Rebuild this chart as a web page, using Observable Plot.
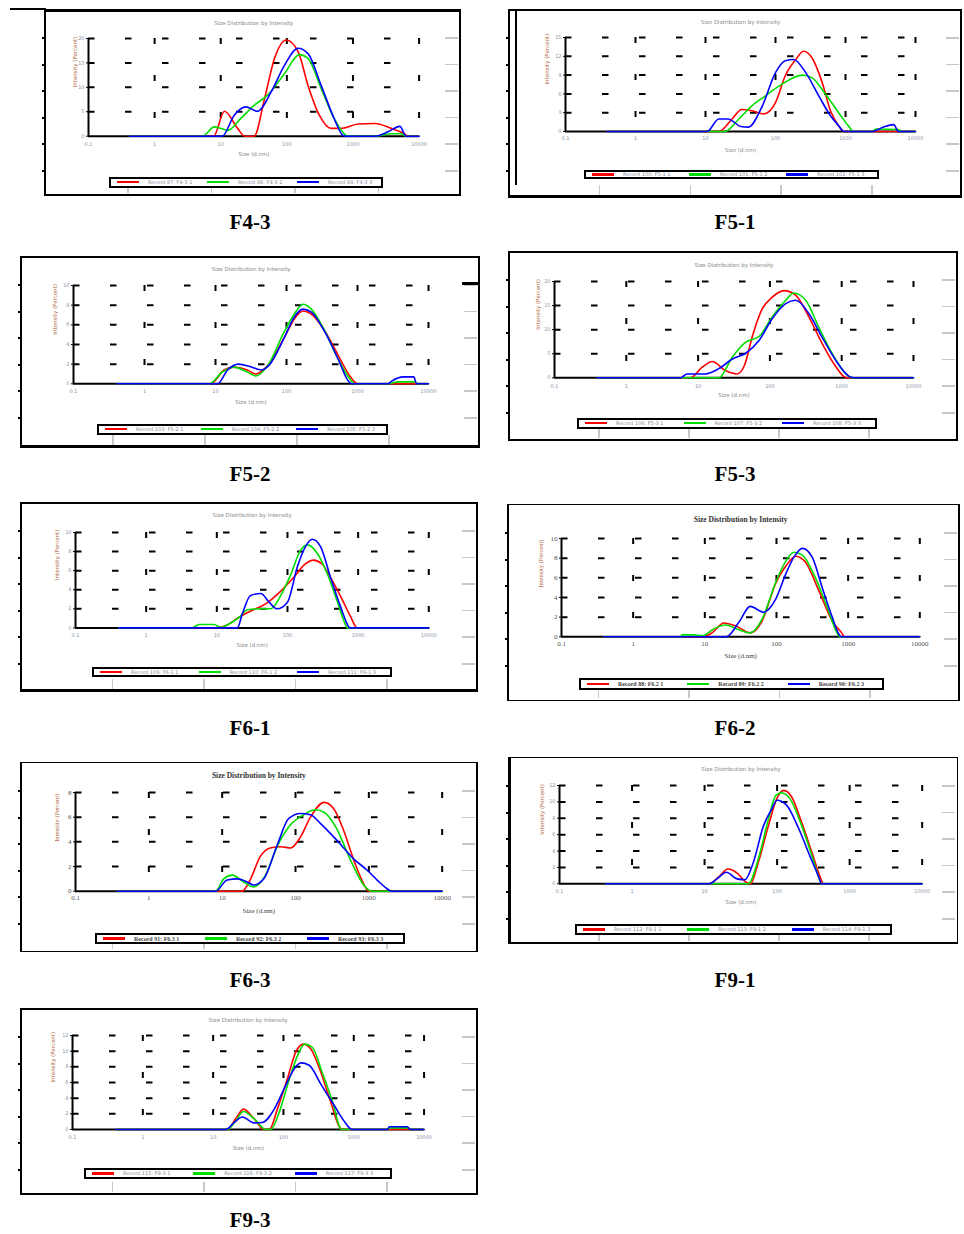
<!DOCTYPE html>
<html><head><meta charset="utf-8">
<script src="https://cdn.jsdelivr.net/npm/d3@7"></script>
<script src="https://cdn.jsdelivr.net/npm/@observablehq/plot@0.6"></script>
<style>
body{margin:0;background:#fff;}
#page{position:relative;width:964px;height:1234px;overflow:hidden;background:#fff;}
.frame{position:absolute;box-sizing:border-box;border-style:solid;border-color:#000;}
.deco{position:absolute;}
.plot{position:absolute;}
.plot svg{overflow:visible;}
.legend{position:absolute;box-sizing:border-box;border:2px solid #000;display:flex;align-items:center;background:#fff;}
.legend .item{flex:1;display:flex;align-items:center;padding-left:6px;}
.legend .sw{width:22px;height:2.5px;margin-right:9px;}
.legend .tx{font:5px "DejaVu Sans",sans-serif;color:#8a8f9c;white-space:nowrap;}
.legend.serif .tx{font:bold 6px "Liberation Serif",serif;color:#444;}
.plabel{position:absolute;font:bold 21px "Liberation Serif",serif;transform:translate(-50%,-50%);color:#000;}
</style>
</head><body><div id="page"></div>
<script>
// ---------------- DATA ----------------
const sizeTicks = [0.1, 1, 10, 100, 1000, 10000];
const sizeTickLabels = ["0.1", "1", "10", "100", "1000", "10000"];
const chartTitle = "Size Distribution by Intensity";
const xLabel = "Size (d.nm)";
const yLabel = "Intensity (Percent)";

// F4-3  [size d.nm, intensity %]
const f43Red   = [[0.42,0],[7.8,0],[11.4,5.1],[18,1.6],[23,0],[32,0],[46,7.7],[65,15.9],[98,19.7],[148,17.3],[209,10.4],[310,4.3],[465,1.6],[660,1.6],[1200,2.5],[2140,2.6],[3800,1.6],[6000,0.5],[6800,0],[10000,0]];
const f43Green = [[0.42,0],[5.3,0],[8,1.9],[12.8,1.2],[20,3.6],[32,6.3],[51,8.4],[92,12.8],[155,16.7],[209,15.9],[330,9.8],[520,3.6],[740,0.5],[830,0],[2140,0],[3800,0.5],[5300,0.5],[6400,0],[10000,0]];
const f43Blue  = [[0.42,0],[10.5,0],[16,4.3],[24,6.0],[36,5.1],[58,9.1],[92,14.5],[148,18.0],[209,16.9],[330,10.4],[520,3.6],[700,0.2],[780,0],[2140,0],[3400,0.9],[5100,2.0],[6400,0],[10000,0]];
const yTicks43 = [0, 5, 10, 15, 20];
const legend43 = ["Record 97: F4-3 1", "Record 98: F4-3 2", "Record 99: F4-3 3"];

// F5-1
const f51Red   = [[0.39,0],[15.5,0],[24,2.0],[33,3.5],[46,3.3],[68,2.8],[100,4.6],[138,8.9],[195,11.5],[253,12.8],[330,11.8],[465,7.8],[610,3.3],[800,0.9],[950,0],[10000,0]];
const f51Green = [[0.39,0],[19,0],[30,2.0],[46,4.1],[72,5.7],[125,7.6],[240,9.0],[330,8.6],[515,6.0],[800,3.0],[1100,0.9],[1320,0],[2400,0],[2700,0.4],[5700,0.3],[6400,0],[10000,0]];
const f51Blue  = [[0.39,0],[10.5,0],[15.5,2.0],[21,2.0],[32,0.8],[41,0.7],[65,4.1],[100,9.4],[138,11.3],[182,11.5],[270,9.4],[415,5.7],[610,2.5],[800,0.9],[950,0],[2400,0],[3300,0.6],[4900,1.1],[5700,0],[10000,0]];
const yTicks51 = [0, 3, 6, 9, 12, 15];
const legend51 = ["Record 100: F5-1 1", "Record 101: F5-1 2", "Record 102: F5-1 3"];

// F5-2
const f52Red   = [[0.41,0],[8.6,0],[13.2,1.4],[18,1.7],[28,1.4],[37,1.0],[55,1.9],[93,4.7],[129,6.6],[170,7.4],[224,7.1],[345,5.4],[535,2.9],[780,0.8],[1000,0],[10000,0]];
const f52Green = [[0.41,0],[8.1,0],[12.5,1.2],[18,1.7],[28,1.2],[37,0.8],[55,1.9],[93,5.3],[129,7.1],[170,8.1],[224,7.6],[345,5.4],[535,2.5],[780,0.5],[920,0],[2700,0],[3700,0.2],[6500,0.2],[6900,0],[10000,0]];
const f52Blue  = [[0.41,0],[10.7,0],[14.8,1.4],[21,2.0],[32,1.7],[44,1.4],[57,1.9],[93,4.7],[129,6.8],[170,7.6],[224,7.3],[345,5.3],[535,2.5],[740,0.3],[830,0],[2700,0],[3000,0.25],[4500,0.7],[6200,0.7],[6800,0],[10000,0]];
const yTicks52 = [0, 2, 4, 6, 8, 10];
const legend52 = ["Record 103: F5-2 1", "Record 104: F5-2 2", "Record 105: F5-2 3"];

// F5-3
const f53Red   = [[0.39,0],[7.8,0],[11.4,2.2],[15.7,3.4],[24,1.5],[35,0.8],[44,2.5],[58,9.0],[78,14.3],[107,16.7],[158,18.1],[230,17.1],[350,12.6],[535,7.1],[780,2.9],[1070,0.3],[1180,0],[10000,0]];
const f53Green = [[0.39,0],[19.5,0],[30,4.3],[46,7.4],[71,8.6],[107,12.6],[166,16.1],[215,17.6],[315,16.1],[480,10.5],[740,5.0],[1150,0.8],[1400,0],[10000,0]];
const f53Blue  = [[0.39,0],[5.7,0],[7,0.8],[12.6,0.8],[19.5,1.9],[30,3.9],[46,5.1],[71,7.8],[107,12.2],[166,15.4],[230,16.1],[350,13.3],[535,8.4],[830,3.6],[1270,0.3],[1500,0],[10000,0]];
const yTicks53 = [0, 5, 10, 15, 20];
const legend53 = ["Record 106: F5-3 1", "Record 107: F5-3 2", "Record 108: F5-3 3"];

// F6-1
const f61Red   = [[0.41,0],[10,0],[14,0.3],[21.5,1.2],[33,1.9],[51,2.6],[79,3.8],[123,5.3],[179,6.7],[233,7.1],[308,6.7],[406,5.3],[565,3.3],[780,1.2],[970,0],[10000,0]];
const f61Green = [[0.41,0],[4.4,0],[5.6,0.35],[9.1,0.35],[11.5,0.05],[14,0.3],[21.5,1.2],[27,1.9],[42,2.0],[58,2.0],[79,3.3],[110,5.5],[152,8.1],[191,8.7],[265,7.8],[365,5.7],[500,2.9],[665,0.3],[700,0],[10000,0]];
const f61Blue  = [[0.41,0],[19.5,0],[23,1.5],[30,3.4],[42,3.6],[55,2.7],[71,2.0],[100,2.7],[138,6.4],[179,8.5],[224,9.3],[295,8.5],[406,5.3],[565,2.2],[740,0.1],[760,0],[10000,0]];
const yTicks61 = [0, 2, 4, 6, 8, 10];
const legend61 = ["Record 109: F6-1 1", "Record 110: F6-1 2", "Record 111: F6-1 3"];

// F6-2
const f62Red   = [[0.39,0],[9.2,0],[12.6,0.4],[18.4,1.4],[27,1.1],[43,0.4],[63,1.6],[97,5.4],[135,7.2],[186,8.2],[253,7.6],[390,4.7],[600,1.6],[830,0.3],[880,0],[10000,0]];
const f62Green = [[0.39,0],[4.6,0],[4.8,0.2],[7,0.2],[9.2,0.1],[13.3,0.8],[19.5,1.2],[28,0.8],[43,0.4],[63,1.8],[97,5.5],[135,7.7],[175,8.6],[230,8.3],[330,6.4],[510,3.0],[700,0.4],[760,0],[10000,0]];
const f62Blue  = [[0.39,0],[20,0],[30,1.5],[43,3.1],[66,2.5],[97,3.8],[135,6.4],[175,8.1],[230,9.0],[315,8.1],[435,5.0],[600,2.0],[740,0.3],[800,0],[10000,0]];
const yTicks62 = [0, 2, 4, 6, 8, 10];
const legend62 = ["Record 88: F6.2 1", "Record 89: F6.2 2", "Record 90: F6.2 3"];

// F6-3
const f63Red   = [[0.37,0],[18.8,0],[24,0.9],[33,2.8],[45,3.5],[63,3.6],[86,3.5],[117,4.4],[160,6.0],[245,7.2],[330,6.7],[455,4.9],[625,2.5],[850,0.6],[1000,0],[10000,0]];
const f63Green = [[0.37,0],[8.1,0],[10.5,1.0],[13.7,1.3],[19.7,0.75],[27,0.35],[39,1.3],[56,3.6],[86,5.4],[129,6.2],[186,6.6],[245,6.4],[355,5.2],[565,2.5],[850,0.5],[1100,0],[10000,0]];
const f63Blue  = [[0.37,0],[8.1,0],[11.7,0.9],[16,1.0],[22,0.75],[27,0.5],[37,1.0],[56,3.7],[81,5.9],[117,6.3],[160,6.2],[218,5.5],[370,4.1],[625,2.6],[950,1.7],[1300,0.9],[1770,0.2],[2050,0],[10000,0]];
const yTicks63 = [0, 2, 4, 6, 8];
const legend63 = ["Record 91: F6.3 1", "Record 92: F6.3 2", "Record 93: F6.3 3"];

// F9-1
const f91Red   = [[0.43,0],[11.6,0],[15.5,0.8],[21,1.8],[29,1.2],[36,0.3],[43,0],[55,2.6],[76,7.1],[99,10.4],[123,11.4],[159,10.6],[218,7.5],[300,3.9],[410,0.4],[430,0],[10000,0]];
const f91Green = [[0.43,0],[40,0],[55,3.0],[76,7.9],[96,10.8],[115,11.1],[150,10.4],[218,7.1],[300,3.5],[390,0.4],[410,0],[10000,0]];
const f91Blue  = [[0.43,0],[11.6,0],[14.8,0.6],[20,1.4],[28,0.6],[36,0.5],[47,2.6],[65,7.1],[84,9.1],[100,10.2],[135,9.6],[195,6.9],[280,3.5],[390,0.4],[405,0],[10000,0]];
const yTicks91 = [0, 2, 4, 6, 8, 10, 12];
const legend91 = ["Record 112: F9-1 1", "Record 113: F9-1 2", "Record 114: F9-1 3"];

// F9-3
const f93Red   = [[0.41,0],[16,0],[21,1.4],[27,2.6],[38,1.4],[53,0],[63,0],[82,2.6],[114,6.5],[150,9.9],[192,10.9],[244,10.3],[340,7.3],[470,3.5],[650,0.1],[680,0],[10000,0]];
const f93Green = [[0.41,0],[16,0],[21,1.1],[27,2.3],[38,1.4],[56,0],[66,0],[87,2.2],[120,6.3],[158,9.4],[200,10.9],[257,10.5],[355,7.3],[500,3.5],[650,0.1],[680,0],[3000,0],[3300,0.2],[6000,0.2],[6400,0],[10000,0]];
const f93Blue  = [[0.41,0],[15,0],[20,0.9],[26,1.6],[38,0.85],[50,0.9],[74,2.6],[107,5.6],[141,7.7],[177,8.5],[232,8.2],[340,5.8],[525,3.1],[725,1.1],[950,0],[3000,0],[3200,0.35],[5800,0.35],[6300,0],[10000,0]];
const yTicks93 = [0, 2, 4, 6, 8, 10, 12];
const legend93 = ["Record 115: F9-3 1", "Record 116: F9-3 2", "Record 117: F9-3 3"];

const panelNames = ["F4-3", "F5-1", "F5-2", "F5-3", "F6-1", "F6-2", "F6-3", "F9-1", "F9-3"];

// ---------------- LAYOUT / STYLE ----------------
const colors = ["#ff0000", "#00dd00", "#0000ff"];
const panels = [
  {name:panelNames[0], series:[f43Red,f43Green,f43Blue], yTicks:yTicks43, legend:legend43,
   L:{x0:87.7,x1:418.3,yt:38.3,yb:136,titleY:20.7,xlabY:156,tickY:145,ylabDx:-13,lg:[109,176.5,383,187.5],fr:[44,9,461,196],bw:[3,2,2,2],lab:[250,222]}},
  {name:panelNames[1], series:[f51Red,f51Green,f51Blue], yTicks:yTicks51, legend:legend51,
   L:{x0:565,x1:915,yt:36.7,yb:130.7,titleY:19,xlabY:150.7,tickY:138,ylabDx:-18,lg:[584,169.5,879,179],fr:[508,9,962,198],bw:[2,2,3,2],lab:[735,222]}},
  {name:panelNames[2], series:[f52Red,f52Green,f52Blue], yTicks:yTicks52, legend:legend52,
   L:{x0:73.3,x1:428.3,yt:285,yb:383.3,titleY:266.7,xlabY:403.3,tickY:391.7,ylabDx:-18,lg:[97,423.5,388,434.5],fr:[20,256,480,448],bw:[2,2,3,2],lab:[250,474]}},
  {name:panelNames[3], series:[f53Red,f53Green,f53Blue], yTicks:yTicks53, legend:legend53,
   L:{x0:554.3,x1:913.3,yt:281,yb:377.3,titleY:262.3,xlabY:396.7,tickY:386,ylabDx:-16,lg:[577,417.5,877,428.5],fr:[508,251,958,441],bw:[2,2,2,2],lab:[735,474]}},
  {name:panelNames[4], series:[f61Red,f61Green,f61Blue], yTicks:yTicks61, legend:legend61,
   L:{x0:75,x1:428.3,yt:532.3,yb:627.7,titleY:513.3,xlabY:646.7,tickY:635.7,ylabDx:-18,lg:[92,666.5,392,677],fr:[20,502,478,692],bw:[2,2,3,2],lab:[250,728]}},
  {name:panelNames[5], series:[f62Red,f62Green,f62Blue], yTicks:yTicks62, legend:legend62, serif:true,
   L:{x0:561,x1:919.3,yt:537.7,yb:636,titleY:516,xlabY:657.3,tickY:644,ylabDx:-21,lg:[579,678,884,689.5],fr:[507,504,960,701],bw:[1.5,2,1.5,2],lab:[735,728]}},
  {name:panelNames[6], series:[f63Red,f63Green,f63Blue], yTicks:yTicks63, legend:legend63, serif:true,
   L:{x0:75,x1:441.7,yt:792.3,yb:891,titleY:772.3,xlabY:913.3,tickY:898.3,ylabDx:-19,lg:[95,933,405,944],fr:[20,762,478,952],bw:[1.5,2,1.5,2],lab:[250,980]}},
  {name:panelNames[7], series:[f91Red,f91Green,f91Blue], yTicks:yTicks91, legend:legend91,
   L:{x0:559,x1:921.7,yt:785,yb:883.3,titleY:766.7,xlabY:903.3,tickY:891.7,ylabDx:-17,lg:[575,924,892,934.5],fr:[508,757,958,944],bw:[1.5,1.5,2,3],lab:[735,980]}},
  {name:panelNames[8], series:[f93Red,f93Green,f93Blue], yTicks:yTicks93, legend:legend93,
   L:{x0:71.7,x1:423.3,yt:1035,yb:1129,titleY:1017.7,xlabY:1149.3,tickY:1137.7,ylabDx:-19,lg:[84,1168,392,1178.5],fr:[20,1008,478,1195],bw:[2,2,2,2],lab:[250,1220]}}
];

const page = document.getElementById("page");
function addDiv(cls, css, html) {
  const d = document.createElement("div");
  d.className = cls;
  Object.assign(d.style, css);
  if (html != null) d.innerHTML = html;
  page.appendChild(d);
  return d;
}

function drawPanel(p, idx) {
  const L = p.L;
  const [fl, ft, fr, fb] = L.fr;
  // outer frame
  addDiv("frame", {left:fl+"px", top:ft+"px", width:(fr-fl)+"px", height:(fb-ft)+"px",
    borderWidth:`${L.bw[0]}px ${L.bw[1]}px ${L.bw[2]}px ${L.bw[3]}px`});
  // frame decorations: left black ticks, right gray ticks, bottom gray ticks
  for (let i = 0; i < 6; i++) {
    const y = ft + 28 + 26.6 * i;
    addDiv("deco", {left:(fl-2)+"px", top:y+"px", width:"4px", height:"2px", background:"#000"});
    addDiv("deco", {left:(fr-16)+"px", top:y+"px", width:"13px", height:"1.5px", background:"#c8c8c8"});
  }
  for (const f of [0.2, 0.4, 0.6, 0.8]) {
    addDiv("deco", {left:(fl + f*(fr-fl))+"px", top:(fb-13)+"px", width:"1.5px", height:"10px", background:"#c8c8c8"});
  }
  if (idx === 0) addDiv("deco", {left:"10px", top:"8px", width:"36px", height:"1.5px", background:"#000"});
  if (idx === 1) addDiv("deco", {left:"515px", top:"10px", width:"2px", height:"175px", background:"#000"});
  if (idx === 2) addDiv("deco", {left:"462px", top:"282px", width:"17px", height:"3px", background:"#000"});

  const serif = !!p.serif;
  const mL = 34, mR = 14, mT = 26, mB = 34;
  const W = L.x1 - L.x0, H = L.yb - L.yt;
  const yMax = p.yTicks[p.yTicks.length - 1];
  const tickFont = serif ? 7 : 5;
  const textFill = serif ? "#555" : "#8a93a8";
  const fam = serif ? "Liberation Serif, serif" : "DejaVu Sans, sans-serif";
  const lines = p.series.map((s, i) => Plot.line(s, {x: d => d[0], y: d => d[1], stroke: colors[i], strokeWidth: 1.6, curve: "monotone-x"}));
  const chart = Plot.plot({
    width: W + mL + mR, height: H + mT + mB,
    marginLeft: mL, marginRight: mR, marginTop: mT, marginBottom: mB,
    x: {type: "log", domain: [0.1, 10000]},
    y: {domain: [0, yMax]},
    style: {background: "transparent", fontFamily: fam, overflow: "visible"},
    marks: [
      Plot.ruleY(p.yTicks.slice(1), {x1: 0.1, x2: 10000, stroke: "#000", strokeWidth: 2, strokeDasharray: "6.5,30.5"}),
      Plot.ruleX(sizeTicks.slice(1), {y1: yMax, y2: 0, stroke: "#000", strokeWidth: 2, strokeDasharray: "6,31"}),
      Plot.axisX(sizeTicks, {tickSize: 0, tickPadding: L.tickY - L.yb - tickFont/2, fontSize: tickFont, fill: textFill, label: null,
        tickFormat: d => sizeTickLabels[sizeTicks.indexOf(d)]}),
      Plot.axisY(p.yTicks, {tickSize: 2, tickPadding: 2, fontSize: tickFont, fill: textFill, stroke: "#000", label: null}),
      Plot.ruleX([0.1], {y1: 0, y2: yMax, stroke: "#000", strokeWidth: 2}),
      Plot.ruleY([0], {x1: 0.1, x2: 10000, stroke: "#000", strokeWidth: 2}),
      ...lines,
      Plot.text([chartTitle], {text: d => d, frameAnchor: "top", dy: L.titleY - L.yt, fontSize: serif ? 7.5 : 5.5,
        fill: serif ? "#333" : "#8a8a8a", fontWeight: serif ? "bold" : "normal"}),
      Plot.text([xLabel], {text: d => d, frameAnchor: "bottom", dy: L.xlabY - L.yb, fontSize: serif ? 7 : 5.5, fill: serif ? "#444" : "#8a8a8a"}),
      Plot.text([yLabel], {text: d => d, frameAnchor: "left", rotate: -90, dx: L.ylabDx, fontSize: serif ? 6.5 : 5.5, fill: "#b0643c"})
    ]
  });
  const holder = addDiv("plot", {left: (L.x0 - mL) + "px", top: (L.yt - mT) + "px"});
  holder.appendChild(chart);

  // legend
  const [lx0, ly0, lx1, ly1] = L.lg;
  const lg = addDiv("legend" + (serif ? " serif" : ""), {left: lx0+"px", top: ly0+"px", width: (lx1-lx0)+"px", height: (ly1-ly0)+"px"});
  p.legend.forEach((name, i) => {
    const it = document.createElement("div");
    it.className = "item";
    it.innerHTML = `<span class="sw" style="background:${colors[i]}"></span><span class="tx">${name}</span>`;
    lg.appendChild(it);
  });
  // panel label
  addDiv("plabel", {left: L.lab[0] + "px", top: L.lab[1] + "px"}, p.name);
}

panels.forEach(drawPanel);
</script>
</body></html>
